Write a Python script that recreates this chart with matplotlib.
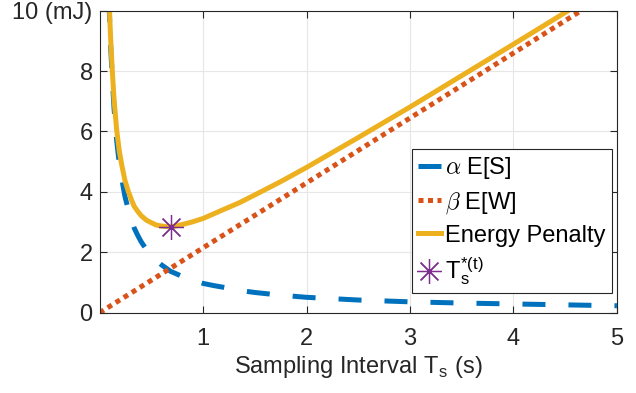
import numpy as np
import matplotlib.pyplot as plt

plt.rcParams['font.family'] = ['Liberation Sans', 'DejaVu Sans']
plt.rcParams['mathtext.fontset'] = 'cm'

# sampling interval (s)
ts = [0.085, 0.09, 0.10, 0.11, 0.123, 0.14, 0.165, 0.19, 0.213, 0.245, 0.277,
      0.31, 0.335, 0.37, 0.4, 0.45, 0.5, 0.55, 0.6, 0.686, 0.8, 0.9, 1.0, 1.1,
      1.2, 1.35, 1.5, 1.75, 2.0, 2.5, 3.0, 3.5, 4.0, 4.5, 5.0]
# alpha E[S] (mJ)
e_s = [11.0, 10.4, 9.4, 8.6, 7.74, 6.75, 5.7, 4.95, 4.45, 3.85, 3.42,
       3.05, 2.8, 2.55, 2.36, 2.1, 1.9, 1.72, 1.58, 1.37, 1.2, 1.07, 0.97, 0.9,
       0.84, 0.74, 0.67, 0.58, 0.51, 0.42, 0.36, 0.32, 0.29, 0.26, 0.23]
# energy penalty (mJ)
ts_pen = ts[:-1] + [4.56]
penalty = [11.18, 10.59, 9.62, 8.84, 8.0, 7.05, 6.05, 5.36, 4.91, 4.38, 4.02,
           3.72, 3.52, 3.35, 3.22, 3.07, 2.98, 2.90, 2.87, 2.84, 2.92, 3.01, 3.12, 3.27,
           3.42, 3.64, 3.9, 4.34, 4.81, 5.8, 6.81, 7.85, 8.89, 9.94, 10.07]
# beta E[W] (mJ)
ts_w = [0.0, 4.7]
e_w = [0.0, 10.1]
# optimum
t_opt = [0.686]
pen_opt = [2.84]

fig = plt.figure(figsize=(6.36, 3.93), dpi=100)
ax = fig.add_axes([0.1566, 0.2043, 0.8134, 0.7685])

ax.plot(ts, e_s, color='#0072BD', lw=3.6, ls=(0, (4.6, 4.6)), dash_capstyle='butt',
        label=r'$\alpha$ E[S]')
ax.plot(ts_w, e_w, color='#D95319', lw=3.6, ls=(0, (1, 0.9)), dash_capstyle='butt',
        label=r'$\beta$ E[W]')
ax.plot(ts_pen, penalty, color='#EDB120', lw=3.6, label='Energy Penalty')
ax.plot(t_opt, pen_opt, ls='none', marker=(8, 2, 0), ms=18, mew=0.9,
        color='#7E2F8E', label=r'T$_\mathregular{s}^\mathregular{*(t)}$')

ax.set_xlim(0, 5)
ax.set_ylim(0, 10)
ax.set_xticks([1, 2, 3, 4, 5])
ax.set_yticks([0, 2, 4, 6, 8, 10])
ax.set_yticklabels(['0', '2', '4', '6', '8', '10 (mJ)'])
ax.grid(True, color='#e6e6e6', lw=0.8)
ax.set_axisbelow(True)
ax.tick_params(direction='in', top=True, right=True, length=5, width=0.8,
               labelsize=17, colors='#262626')
ax.tick_params(axis='x', pad=11)
ax.tick_params(axis='y', pad=5)
for s in ax.spines.values():
    s.set_color('#262626')
    s.set_linewidth(0.8)
ax.set_xlabel(r'Sampling Interval T$_\mathregular{s}$ (s)', fontsize=17, color='#262626',
              labelpad=3)

leg = ax.legend(loc='lower right', bbox_to_anchor=(0.99, 0.065), fontsize=17,
                fancybox=False, framealpha=1, edgecolor='#262626',
                handlelength=0.95, handletextpad=0.2, labelspacing=0.38,
                borderpad=0.25, borderaxespad=0)
leg.get_frame().set_linewidth(0.8)

fig.savefig('out.png', dpi=100)
